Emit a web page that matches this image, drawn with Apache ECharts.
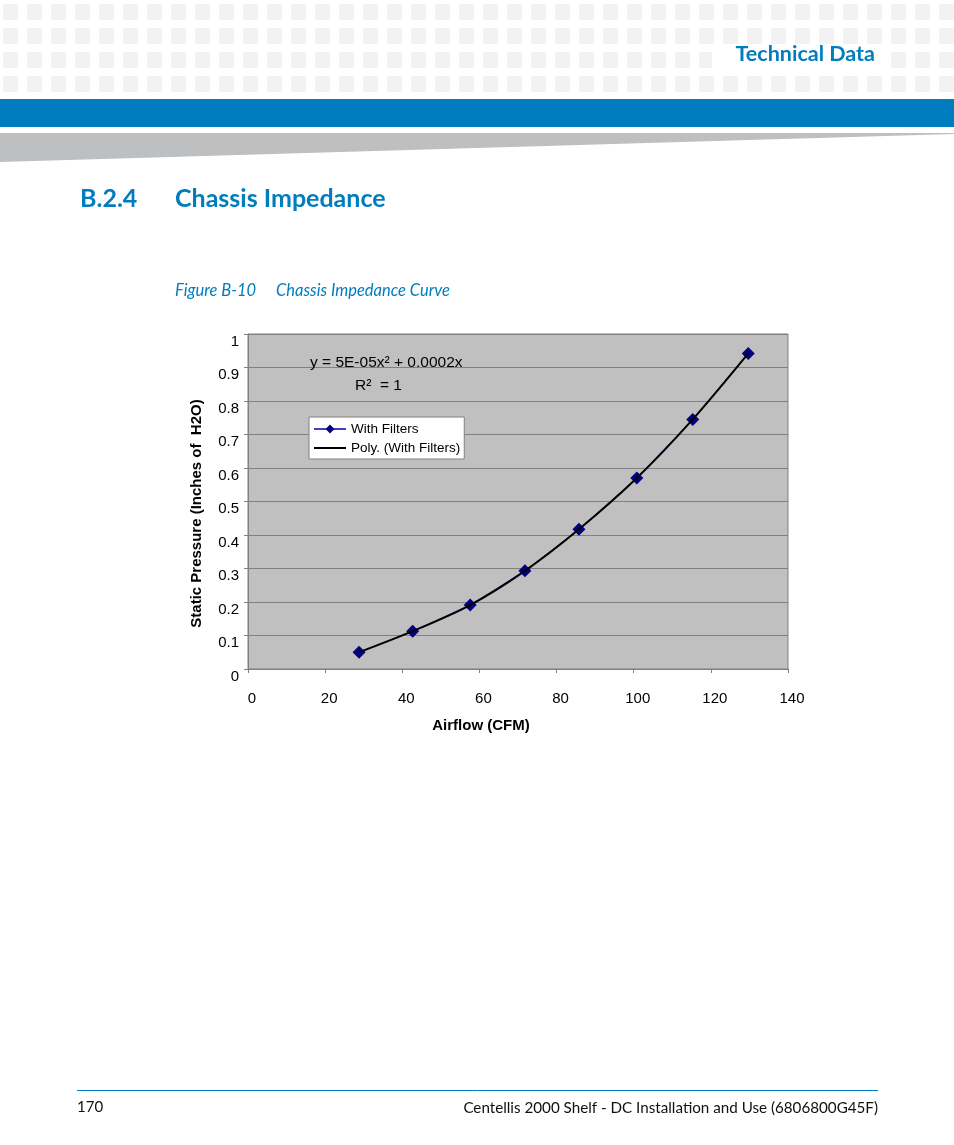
<!DOCTYPE html>
<html>
<head>
<meta charset="utf-8">
<script src="https://cdn.jsdelivr.net/npm/echarts@6/dist/echarts.min.js"></script>
<style>
  html, body { margin: 0; padding: 0; background: #fff; }
  #page { width: 954px; height: 1145px; }
</style>
</head>
<body>
<div id="page"></div>
<script>
// ---- data ----
const airflow = [28.8, 42.7, 57.6, 71.8, 85.8, 100.8, 115.3, 129.7];
const pressure = [0.050, 0.113, 0.191, 0.293, 0.417, 0.570, 0.745, 0.942];
const seriesNames = ['With Filters', 'Poly. (With Filters)'];
const equationText = 'y = 5E-05x\u00B2 + 0.0002x';
const r2Text = 'R\u00B2  = 1';
const xAxisTitle = 'Airflow (CFM)';
const yAxisTitle = 'Static Pressure (Inches of  H2O)';

const points = airflow.map((x, i) => [x, pressure[i]]);

const BLUE = '#007dbe';
const PAGE_FONT = 'Lato, "Noto Sans", sans-serif';
const CHART_FONT = '"Liberation Sans", Arial, sans-serif';

// ---- page decoration ----
const graphics = [];
for (let r = 0; r < 4; r++) {
  for (let c = 0; c < 40; c++) {
    graphics.push({
      type: 'rect', silent: true,
      shape: { x: 3 + c * 24, y: 4 + r * 24, width: 15, height: 16 },
      style: { fill: '#f2f2f2' }
    });
  }
}
graphics.push(
  { type: 'rect', silent: true, shape: { x: 712, y: 49, width: 174, height: 22 }, style: { fill: '#ffffff' } },
  { type: 'text', silent: true, x: 875, y: 54,
    style: { text: 'Technical Data', fill: BLUE, font: 'bold 21.5px ' + PAGE_FONT, align: 'right', verticalAlign: 'middle' } },
  { type: 'rect', silent: true, shape: { x: 0, y: 99, width: 954, height: 28 }, style: { fill: BLUE } },
  { type: 'polygon', silent: true, shape: { points: [[0, 133], [954, 133], [954, 134], [0, 162]] }, style: { fill: '#bebfc1' } },
  { type: 'text', silent: true, x: 80, y: 199,
    style: { text: 'B.2.4', fill: BLUE, font: 'bold 25px ' + PAGE_FONT, verticalAlign: 'middle' } },
  { type: 'text', silent: true, x: 175, y: 199,
    style: { text: 'Chassis Impedance', fill: BLUE, font: 'bold 25px ' + PAGE_FONT, verticalAlign: 'middle' } },
  { type: 'text', silent: true, x: 175, y: 291,
    style: { text: 'Figure B-10', fill: BLUE, font: 'italic 16.5px ' + PAGE_FONT, verticalAlign: 'middle' } },
  { type: 'text', silent: true, x: 276, y: 291,
    style: { text: 'Chassis Impedance Curve', fill: BLUE, font: 'italic 16.5px ' + PAGE_FONT, verticalAlign: 'middle' } },
  { type: 'line', silent: true, shape: { x1: 77, y1: 1090.5, x2: 878, y2: 1090.5 }, style: { stroke: BLUE, lineWidth: 1 } },
  { type: 'text', silent: true, x: 77, y: 1107,
    style: { text: '170', fill: '#111', font: '15px ' + PAGE_FONT, verticalAlign: 'middle' } },
  { type: 'text', silent: true, x: 878, y: 1108,
    style: { text: 'Centellis 2000 Shelf - DC Installation and Use (6806800G45F)', fill: '#111', font: '15.2px ' + PAGE_FONT, align: 'right', verticalAlign: 'middle' } },
  // trendline equation
  { type: 'text', silent: true, z: 100, x: 310, y: 363,
    style: { text: equationText, fill: '#000', font: '15.5px ' + CHART_FONT, verticalAlign: 'middle' } },
  { type: 'text', silent: true, z: 100, x: 355, y: 386,
    style: { text: r2Text, fill: '#000', font: '15.5px ' + CHART_FONT, verticalAlign: 'middle' } }
);

const chart = echarts.init(document.getElementById('page'), null, { renderer: 'canvas' });
chart.setOption({
  animation: false,
  backgroundColor: '#ffffff',
  graphic: graphics,
  grid: {
    left: 248, top: 334, width: 540, height: 335,
    show: true, backgroundColor: '#c0c0c0', borderColor: '#808080', borderWidth: 1
  },
  legend: {
    data: [
      { name: seriesNames[0] },
      { name: seriesNames[1], icon: 'path://M0,0 L32,0 L32,2 L0,2 Z' }
    ],
    orient: 'vertical',
    left: 309, top: 417,
    padding: [5, 4, 4, 4],
    itemGap: 5,
    itemWidth: 32, itemHeight: 11,
    backgroundColor: '#ffffff',
    borderColor: '#808080', borderWidth: 1,
    textStyle: { fontFamily: CHART_FONT, fontSize: 13.5, color: '#000' }
  },
  xAxis: {
    type: 'value', min: 0, max: 140, interval: 20,
    name: xAxisTitle, nameLocation: 'middle', nameGap: 49,
    nameTextStyle: { fontFamily: CHART_FONT, fontSize: 15, fontWeight: 'bold', color: '#000', padding: [0, 74, 0, 0] },
    axisLine: { show: true, lineStyle: { color: '#808080', width: 1 } },
    axisTick: { show: true, length: 4, lineStyle: { color: '#808080' } },
    axisLabel: { fontFamily: CHART_FONT, fontSize: 15, color: '#000', margin: 22, padding: [0, 0, 0, 8] },
    splitLine: { show: false }
  },
  yAxis: {
    type: 'value', min: 0, max: 1, interval: 0.1,
    name: yAxisTitle, nameLocation: 'middle', nameGap: 44, nameRotate: 90,
    nameTextStyle: { fontFamily: CHART_FONT, fontSize: 15, fontWeight: 'bold', color: '#000', padding: [0, 24, 0, 0] },
    axisLine: { show: true, lineStyle: { color: '#808080', width: 1 } },
    axisTick: { show: true, length: 4, lineStyle: { color: '#808080' } },
    axisLabel: { fontFamily: CHART_FONT, fontSize: 15, color: '#000', margin: 9, verticalAlign: 'top', lineHeight: 15 },
    splitLine: { show: true, lineStyle: { color: '#808080', width: 1 } }
  },
  series: [
    {
      name: seriesNames[0], type: 'line', data: points, z: 2,
      symbol: 'diamond', symbolSize: 13,
      itemStyle: { color: '#000080' },
      lineStyle: { color: '#4040c0', width: 1 }
    },
    {
      name: seriesNames[1], type: 'line', data: points, z: 3,
      smooth: 0.3, symbol: 'none',
      itemStyle: { color: '#000' },
      lineStyle: { color: '#000', width: 2 }
    }
  ]
});
</script>
</body>
</html>
